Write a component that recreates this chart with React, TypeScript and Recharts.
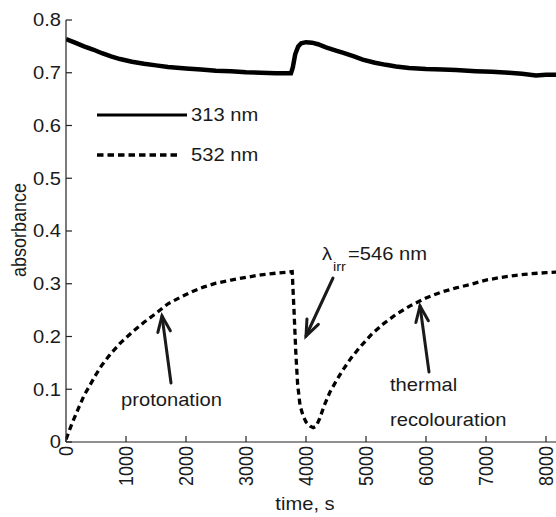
import React from 'react'
import { LineChart, Line, XAxis, YAxis } from 'recharts'

const X_TICKS = [0, 1000, 2000, 3000, 4000, 5000, 6000, 7000, 8000]
const Y_TICKS = [0, 0.1, 0.2, 0.3, 0.4, 0.5, 0.6, 0.7, 0.8]

// 313 nm trace
const T313 = [0, 150, 300, 450, 600, 750, 900, 1100, 1300, 1500, 1700, 2000, 2250, 2500, 2750, 3000, 3250, 3500, 3750, 3780, 3820, 3870, 3920, 4000, 4100, 4200, 4333, 4500, 4611, 4800, 4945, 5150, 5333, 5500, 5717, 6000, 6278, 6500, 6833, 7100, 7383, 7600, 7833, 8000, 8300]
const A313 = [0.764, 0.757, 0.75, 0.744, 0.737, 0.731, 0.726, 0.721, 0.717, 0.714, 0.711, 0.708, 0.706, 0.704, 0.703, 0.701, 0.7, 0.699, 0.699, 0.71, 0.735, 0.75, 0.756, 0.758, 0.757, 0.754, 0.748, 0.742, 0.738, 0.731, 0.725, 0.719, 0.715, 0.712, 0.709, 0.707, 0.706, 0.705, 0.703, 0.702, 0.7, 0.698, 0.695, 0.696, 0.696]

// 532 nm trace
const T532 = [0, 100, 200, 300, 400, 500, 600, 750, 900, 1100, 1300, 1500, 1700, 1900, 2100, 2300, 2500, 2750, 3000, 3250, 3500, 3770, 3800, 3830, 3860, 3900, 3950, 4000, 4070, 4120, 4170, 4230, 4300, 4400, 4500, 4600, 4750, 4900, 5100, 5300, 5500, 5750, 6000, 6250, 6500, 6750, 7000, 7250, 7500, 7750, 8000, 8300]
const A532 = [0.005, 0.035, 0.062, 0.088, 0.108, 0.128, 0.146, 0.168, 0.187, 0.208, 0.227, 0.244, 0.262, 0.274, 0.285, 0.294, 0.301, 0.307, 0.312, 0.317, 0.32, 0.323, 0.25, 0.17, 0.11, 0.07, 0.05, 0.038, 0.03, 0.027, 0.03, 0.045, 0.068, 0.095, 0.115, 0.134, 0.159, 0.18, 0.205, 0.225, 0.242, 0.259, 0.273, 0.284, 0.292, 0.299, 0.307, 0.312, 0.316, 0.319, 0.321, 0.323]

const d313 = T313.map((t, i) => ({ t, a: A313[i] }))
const d532 = T532.map((t, i) => ({ t, a: A532[i] }))

const FONT = '"Liberation Sans", Arial, sans-serif'
const SX = 1.12
const INK = '#1a1a1a'

function Txt({ x, y, children, anchor = 'start', size = 18, rotate = false, dy }: any) {
  return (
    <text
      transform={`translate(${x},${y}) scale(${SX},1)${rotate ? ' rotate(-90)' : ''}`}
      textAnchor={anchor}
      fontSize={size}
      fontFamily={FONT}
      fill={INK}
      dy={dy}
    >
      {children}
    </text>
  )
}

function YTick(p: any) {
  const v = p.payload.value
  return <Txt x={p.x} y={p.y} anchor="end" dy="0.35em">{v === 0 ? '0' : v.toFixed(1)}</Txt>
}

function XTick(p: any) {
  return <Txt x={p.x} y={p.y} anchor="end" dy="0.35em" rotate>{String(p.payload.value)}</Txt>
}

function Arrow({ x1, y1, x2, y2 }: any) {
  const a = Math.atan2(y2 - y1, x2 - x1)
  const L = 17
  const w = 0.38
  const hx1 = x2 - L * Math.cos(a - w), hy1 = y2 - L * Math.sin(a - w)
  const hx2 = x2 - L * Math.cos(a + w), hy2 = y2 - L * Math.sin(a + w)
  return (
    <g stroke={INK} strokeWidth={3} fill="none" strokeLinecap="round" strokeLinejoin="miter">
      <line x1={x1} y1={y1} x2={x2} y2={y2} />
      <polyline points={`${hx1},${hy1} ${x2},${y2} ${hx2},${hy2}`} />
    </g>
  )
}

export default function App() {
  return (
    <div style={{ position: 'fixed', left: 0, top: 0, width: 556, height: 517, overflow: 'hidden', background: '#fff' }}>
      <LineChart width={600} height={517} margin={{ top: 20, right: 36, bottom: 0, left: 0 }}>
        <XAxis
          xAxisId="b" type="number" dataKey="t" domain={[0, 8300]} ticks={X_TICKS} allowDataOverflow
          height={75} tickSize={-6} tickMargin={10} interval={0}
          axisLine={{ stroke: '#222', strokeWidth: 1.2 }} tickLine={{ stroke: '#222', strokeWidth: 1.2 }}
          tick={(p: any) => <XTick {...p} />}
        />
        <XAxis
          xAxisId="top" orientation="top" type="number" domain={[0, 8300]} ticks={X_TICKS} allowDataOverflow
          height={0} tickSize={-6} tick={false}
          axisLine={{ stroke: '#222', strokeWidth: 1.2 }} tickLine={{ stroke: '#222', strokeWidth: 1.2 }}
        />
        <YAxis
          type="number" domain={[0, 0.8]} ticks={Y_TICKS} allowDataOverflow interval={0}
          width={66} tickSize={-6} tickMargin={11}
          axisLine={{ stroke: '#222', strokeWidth: 1.2 }} tickLine={{ stroke: '#222', strokeWidth: 1.2 }}
          tick={(p: any) => <YTick {...p} />}
        />
        <Line xAxisId="b" data={d313} dataKey="a" type="linear" stroke="#000" strokeWidth={4.5} dot={false} isAnimationActive={false} />
        <Line xAxisId="b" data={d532} dataKey="a" type="linear" stroke="#000" strokeWidth={3.3} strokeDasharray="6 4" dot={false} isAnimationActive={false} />
      </LineChart>
      <svg width={556} height={517} style={{ position: 'absolute', left: 0, top: 0, pointerEvents: 'none' }}>
        {/* legend */}
        <line x1={97} y1={115} x2={187} y2={115} stroke="#000" strokeWidth={3} />
        <Txt x={191} y={121}>313 nm</Txt>
        <line x1={97} y1={155} x2={181} y2={155} stroke="#000" strokeWidth={3.5} strokeDasharray="6.5 4" />
        <Txt x={191} y={161}>532 nm</Txt>
        {/* annotations */}
        <Txt x={322} y={260}>λ</Txt>
        <Txt x={333} y={271} size={13}>irr</Txt>
        <Txt x={348} y={260}>=546 nm</Txt>
        <Arrow x1={333} y1={278} x2={306} y2={336} />
        <Txt x={121} y={406}>protonation</Txt>
        <Arrow x1={171} y1={383} x2={162} y2={316} />
        <Txt x={390} y={391}>thermal</Txt>
        <Txt x={390} y={426}>recolouration</Txt>
        <Arrow x1={429} y1={372} x2={420} y2={306} />
        {/* axis labels */}
        <Txt x={26} y={230} anchor="middle" rotate>absorbance</Txt>
        <Txt x={305} y={510} anchor="middle">time, s</Txt>
      </svg>
    </div>
  )
}
